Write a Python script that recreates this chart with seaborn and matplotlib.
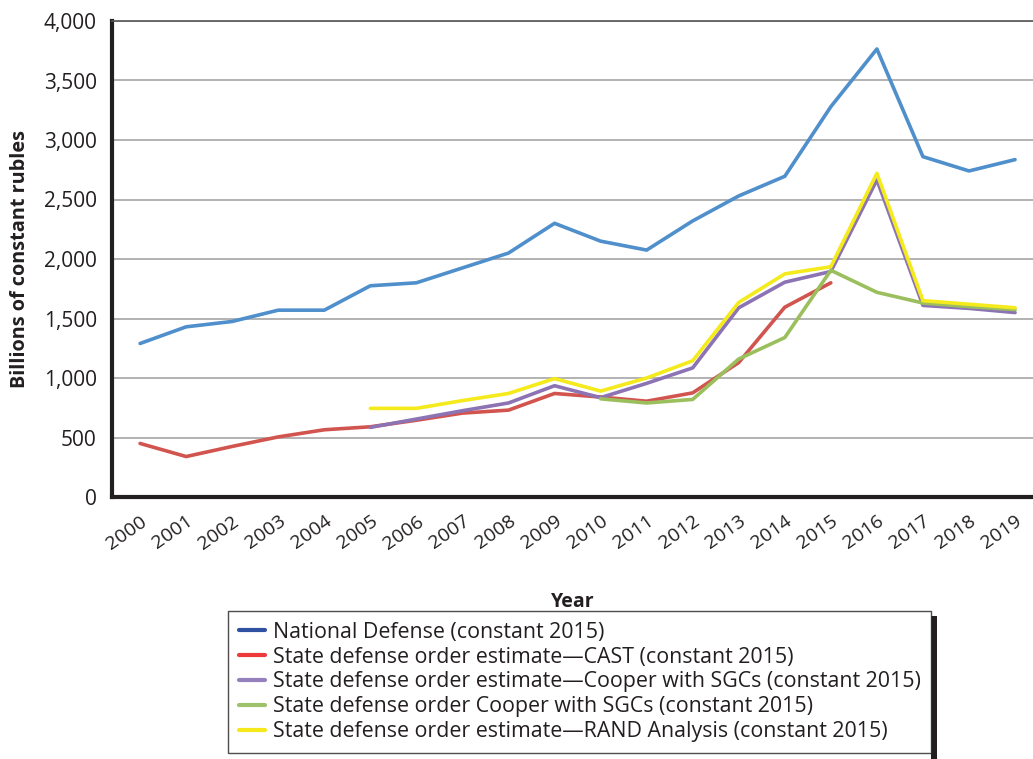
import seaborn as sns
import matplotlib.pyplot as plt
import matplotlib.patches as mpatches
from matplotlib.lines import Line2D
from matplotlib.ticker import FuncFormatter
import numpy as np
import pandas as pd

years = list(range(2000, 2020))
nan = np.nan

national_defense = [1290, 1430, 1475, 1570, 1570, 1775, 1800, 1925, 2050, 2300,
                    2150, 2075, 2320, 2530, 2695, 3280, 3765, 2860, 2740, 2835]
cast = [450, 340, 425, 505, 565, 590, 645, 705, 730, 870,
        840, 805, 875, 1130, 1595, 1800, nan, nan, nan, nan]
cooper_est = [nan, nan, nan, nan, nan, 585, 655, 725, 790, 935,
              835, 955, 1085, 1590, 1805, 1895, 2665, 1610, 1585, 1550]
cooper = [nan, nan, nan, nan, nan, nan, nan, nan, nan, nan,
          825, 790, 820, 1160, 1340, 1905, 1720, 1630, 1600, 1575]
rand = [nan, nan, nan, nan, nan, 745, 745, 810, 870, 995,
        890, 1000, 1145, 1635, 1875, 1935, 2720, 1650, 1620, 1590]

names = ["National Defense (constant 2015)",
         "State defense order estimate\u2014CAST (constant 2015)",
         "State defense order estimate\u2014Cooper with SGCs (constant 2015)",
         "State defense order Cooper with SGCs (constant 2015)",
         "State defense order estimate\u2014RAND Analysis (constant 2015)"]
line_colors = ["#4F8FCB", "#D2544F", "#8C73B3", "#9CBF5E", "#F4EA1C"]
legend_colors = ["#3050A2", "#EE3A3A", "#9580BE", "#9EC26A", "#F6E81A"]

df = pd.DataFrame({"Year": years * 5,
                   "value": national_defense + cast + cooper_est + cooper + rand,
                   "series": sum([[n] * len(years) for n in names], [])}).dropna()

sns.set_style("white")
plt.rcParams['font.family'] = ['Open Sans', 'DejaVu Sans']

fig = plt.figure(figsize=(10.33, 7.59), dpi=100)
ax = fig.add_axes([112 / 1033, 1 - 497 / 759, 1 - 112 / 1033, (497 - 21) / 759])

sns.lineplot(data=df, x="Year", y="value", hue="series", hue_order=names,
             palette=dict(zip(names, line_colors)), linewidth=2.6, ax=ax,
             legend=False)

ax.set_xlim(1999.39, 2019.39)
ax.set_ylim(0, 4000)
ax.set_yticks(range(0, 4001, 500))
ax.yaxis.set_major_formatter(FuncFormatter(lambda v, p: f"{int(v):,}"))
ax.set_xticks(years)
ax.set_xticklabels([str(y) for y in years], rotation=35, ha="right",
                   rotation_mode="anchor")
ax.grid(axis="y", color="#A6A6A6", linewidth=1.2)
ax.set_axisbelow(True)

ax.tick_params(axis="y", length=0, pad=11, labelsize=15, labelcolor="#231F20")
ax.tick_params(axis="x", direction="in", length=12, width=1, color="#231F20",
               pad=11, labelsize=14, labelcolor="#231F20")

for side in ["left", "bottom"]:
    ax.spines[side].set_color("#231F20")
    ax.spines[side].set_linewidth(3)
ax.spines["top"].set_color("#555555")
ax.spines["top"].set_linewidth(1.2)
ax.spines["right"].set_visible(False)

ax.set_xlabel("Year", fontsize=14, fontweight="bold", labelpad=28,
              color="#231F20")
ax.set_ylabel("Billions of constant rubles", fontsize=14.3, fontweight="bold",
              labelpad=10, color="#231F20")

# legend with a dark shadow on the right
handles = [Line2D([0], [0], color=c, linewidth=3) for c in legend_colors]
leg = fig.legend(handles, names, loc="upper left",
                 bbox_to_anchor=(228 / 1033, 1 - 611 / 759), fontsize=15.4,
                 frameon=True, fancybox=False, edgecolor="#231F20",
                 handlelength=1.25, handletextpad=0.35, labelspacing=0.18,
                 borderpad=0.5, borderaxespad=0, labelcolor="#231F20")
leg.get_frame().set_linewidth(1)

fig.canvas.draw()
bb = leg.get_window_extent()
fig.patches.append(mpatches.Rectangle((bb.x1 / 1033, 0), 6 / 1033,
                                      (bb.y1 - 5) / 759, transform=fig.transFigure,
                                      facecolor="#231F20", edgecolor="none",
                                      zorder=0))

fig.savefig("out.png", dpi=100)
